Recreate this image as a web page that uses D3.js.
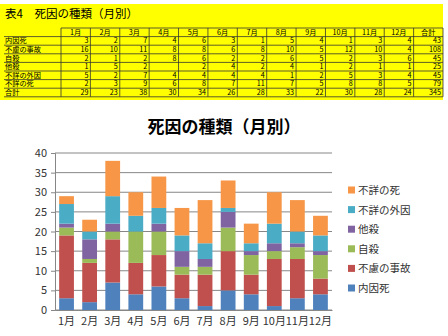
<!DOCTYPE html>
<html><head><meta charset="utf-8">
<script src="https://cdn.jsdelivr.net/npm/d3@7"></script>
<style>
html,body{margin:0;padding:0;background:#fff;}
svg{display:block;}
</style></head>
<body>
<svg id="c" width="448" height="336"></svg>
<script>
const months = ["1月","2月","3月","4月","5月","6月","7月","8月","9月","10月","11月","12月"];
const tableHeader = ["1月","2月","3月","4月","5月","6月","7月","8月","9月","10月","11月","12月","合計"];
const seriesNames = ["内因死","不慮の事故","自殺","他殺","不詳の外因","不詳の死"];
const naiin   = [3,2,7,4,6,3,1,5,4,1,3,4];
const jiko    = [16,10,11,8,8,6,8,10,5,12,10,4];
const jisatsu = [2,1,2,8,6,2,2,6,5,2,3,6];
const tasatsu = [1,5,2,0,2,4,2,4,1,2,1,1];
const gaiin   = [5,2,7,4,4,4,4,1,2,5,3,4];
const fusho   = [2,3,9,6,8,7,11,7,5,8,8,5];
const yTicks  = [0,5,10,15,20,25,30,35,40];
const colors  = ["#4F81BD","#C0504D","#9BBB59","#8064A2","#4BACC6","#F79646"];

const seriesVals = [naiin, jiko, jisatsu, tasatsu, gaiin, fusho];
const svg = d3.select("#c");
const font = "'Noto Sans CJK JP', 'Noto Sans', sans-serif";

// ---- table ----
const tbl = svg.append("g");
tbl.append("rect").attr("x",0).attr("y",4).attr("width",443).attr("height",96).attr("fill","#FFFF00");
tbl.append("text").attr("x",5).attr("y",18).attr("font-family",font).attr("font-size",11.5).attr("fill","#000")
  .text("表4　死因の種類（月別）");
const labelX0 = 4, colX0 = 61, colW = (443-61)/13, rowTop = 28, rowH = 8.6;
const fs = 7.2;
const totals = months.map((m,i)=>d3.sum(seriesVals,s=>s[i]));
const rows = seriesNames.map((n,k)=>{ const v=seriesVals[k].slice(); v.push(d3.sum(v)); return [n, ...v.map(x=>x===0?"":String(x))]; });
rows.push(["合計", ...totals.map(String), String(d3.sum(totals))]);
tableHeader.forEach((h,j)=>{
  tbl.append("text").attr("x",colX0+colW*j+colW/2).attr("y",rowTop+rowH-1.8).attr("text-anchor","middle")
    .attr("font-family",font).attr("font-size",fs).text(h);
});
rows.forEach((r,i)=>{
  const y = rowTop+rowH*(i+1);
  tbl.append("text").attr("x",5).attr("y",y+rowH-1.8).attr("font-family",font).attr("font-size",fs).text(r[0]);
  r.slice(1).forEach((v,j)=>{
    tbl.append("text").attr("x",colX0+colW*(j+1)-2).attr("y",y+rowH-1.8).attr("text-anchor","end")
      .attr("font-family",font).attr("font-size",fs).text(v);
  });
});
const lc = "#333";
tbl.append("line").attr("x1",colX0).attr("x2",443).attr("y1",rowTop).attr("y2",rowTop).attr("stroke",lc).attr("stroke-width",0.8);
for(let i=1;i<=rows.length+1;i++){
  const yy=rowTop+rowH*i;
  tbl.append("line").attr("x1",labelX0).attr("x2",443).attr("y1",yy).attr("y2",yy).attr("stroke",lc).attr("stroke-width",0.8);
}
for(let j=0;j<=13;j++){
  const xx=colX0+colW*j;
  tbl.append("line").attr("x1",xx).attr("x2",xx).attr("y1",rowTop).attr("y2",rowTop+rowH*(rows.length+1)).attr("stroke",lc).attr("stroke-width",0.8);
}

// ---- chart ----
svg.append("text").attr("x",224).attr("y",133).attr("text-anchor","middle").attr("font-family",font)
  .attr("font-size",17).attr("font-weight","bold").text("死因の種類（月別）");

const x = d3.scaleBand().domain(months).range([55,332]).paddingInner(0.36).paddingOuter(0.18);
const y = d3.scaleLinear().domain([0,40]).range([310,153]);

const g = svg.append("g");
g.selectAll("line.grid").data(yTicks).join("line").attr("class","grid")
  .attr("x1",55).attr("x2",332).attr("y1",d=>y(d)).attr("y2",d=>y(d)).attr("stroke","#878787").attr("stroke-width",1);

const data = months.map((m,i)=>{ const o={month:m}; seriesNames.forEach((n,k)=>o[n]=seriesVals[k][i]); return o; });
const stacked = d3.stack().keys(seriesNames)(data);
g.selectAll("g.s").data(stacked).join("g").attr("fill",(d,i)=>colors[i])
  .selectAll("rect").data(d=>d).join("rect")
  .attr("x",d=>x(d.data.month)).attr("width",x.bandwidth())
  .attr("y",d=>y(d[1])).attr("height",d=>y(d[0])-y(d[1]));

const ya = d3.axisLeft(y).tickValues(yTicks).tickSize(4).tickPadding(4);
const yg = svg.append("g").attr("transform","translate(55,0)").call(ya);
yg.select(".domain").attr("stroke","#878787");
yg.selectAll(".tick line").attr("stroke","#878787");
yg.selectAll("text").attr("font-family",font).attr("font-size",11).attr("fill","#333");

const xa = d3.axisBottom(x).tickSize(0).tickPadding(7);
const xg = svg.append("g").attr("transform","translate(0,310)").call(xa);
xg.select(".domain").attr("stroke","#878787");
xg.selectAll("text").attr("font-family",font).attr("font-size",11).attr("fill","#333");

const leg = svg.append("g");
const legOrder = seriesNames.map((n,i)=>({n,c:colors[i]})).reverse();
legOrder.forEach((d,i)=>{
  const yy = 190 + i*19.6;
  leg.append("rect").attr("x",348).attr("y",yy-3.5).attr("width",7).attr("height",7).attr("fill",d.c);
  leg.append("text").attr("x",358).attr("y",yy+4).attr("font-family",font).attr("font-size",10.5).attr("fill","#333").text(d.n);
});
</script>
</body></html>
